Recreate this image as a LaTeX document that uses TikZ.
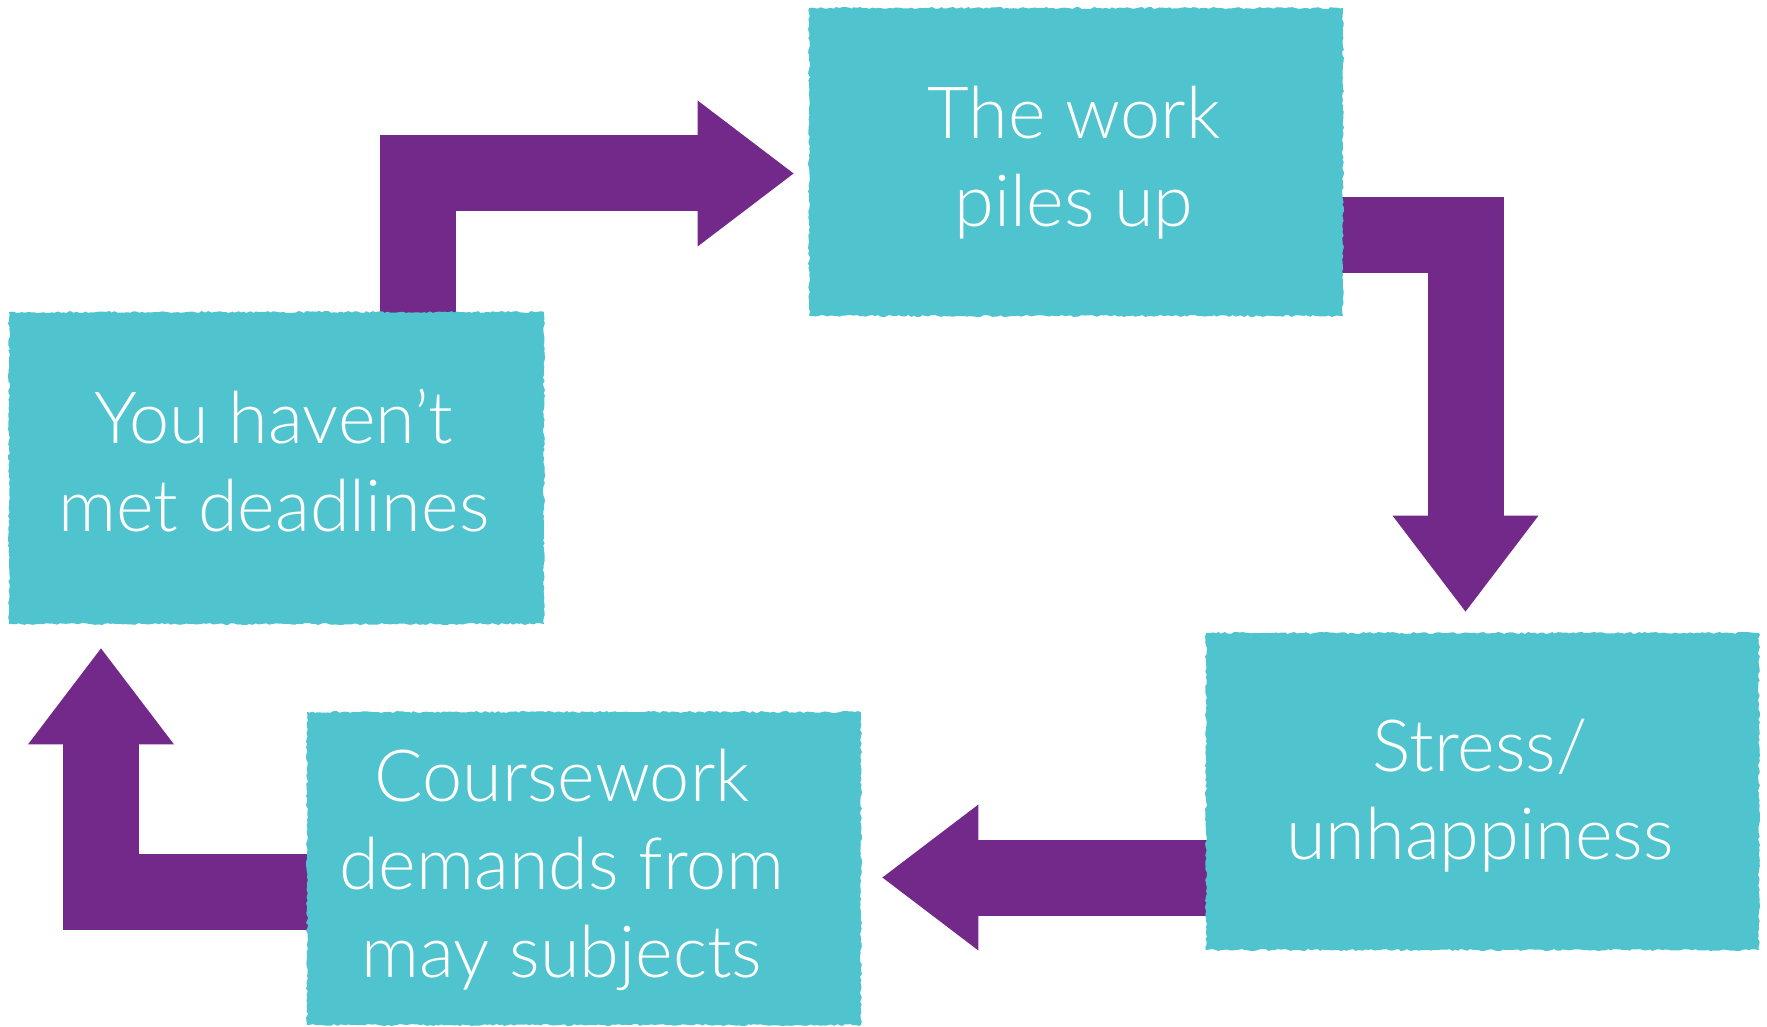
\documentclass[tikz,border=0pt]{standalone}
\usepackage{fontspec}
\setmainfont{Lato}[UprightFont={* Light}]
\usetikzlibrary{arrows.meta,decorations.pathmorphing}
\definecolor{boxteal}{HTML}{4FC4CF}
\definecolor{arrpurple}{HTML}{73298A}
\pgfdeclarelayer{bg}
\pgfsetlayers{bg,main}
\begin{document}
\begin{tikzpicture}[x=0.5pt,y=-0.5pt,
  box/.style={fill=boxteal, inner sep=0pt, draw=none,
    decorate, decoration={random steps, segment length=1.5pt, amplitude=0.5pt}},
  lbl/.style={text=white, font=\fontsize{36}{44}\selectfont, align=center, inner sep=0pt},
  conn/.style={draw=arrpurple, line width=38pt, line join=miter, line cap=butt,
    -{Triangle[width=73pt,length=48pt,line width=0pt]}}]
\pgfmathsetseed{7}
\useasboundingbox (0,0) rectangle (1767,1027);

% boxes
\node[box, minimum width=267pt, minimum height=154pt] (b1) at (1076,162) {};
\node[box, minimum width=267.5pt, minimum height=156pt] (b2) at (276.5,468) {};
\node[box, minimum width=276.5pt, minimum height=158.5pt] (b3) at (1482.5,791.5) {};
\node[box, minimum width=277pt, minimum height=156.5pt] (b4) at (584,868.5) {};

% texts
\node[lbl] (t1) at (1074,163) {The work\\piles up};
\node[lbl] (t2) at (274,460.5) {You haven’t\\met deadlines};
\node[lbl] (t3) at (1480,796) {Stress/\\unhappiness};
\node[lbl] (t4) at (562,869.5) {Coursework\\demands from\\may subjects};

% connectors
\begin{pgfonlayer}{bg}
\draw[conn, shorten >=7.5pt] ([xshift=70.75pt,yshift=-4pt]b2.north) |- ([yshift=-5.75pt]b1.west);
\draw[conn, shorten >=10.5pt] ([xshift=-4pt,yshift=-36.75pt]b1.east) -| ([xshift=-8.5pt]b3.north);
\draw[conn, shorten >=10.5pt] ([xshift=4pt,yshift=-43pt]b3.west) -- ([yshift=-4.5pt]b4.east);
\draw[conn, shorten >=12pt] ([xshift=4pt,yshift=-11.75pt]b4.west) -| ([xshift=-87.75pt]b2.south);
\end{pgfonlayer}
\end{tikzpicture}
\end{document}
